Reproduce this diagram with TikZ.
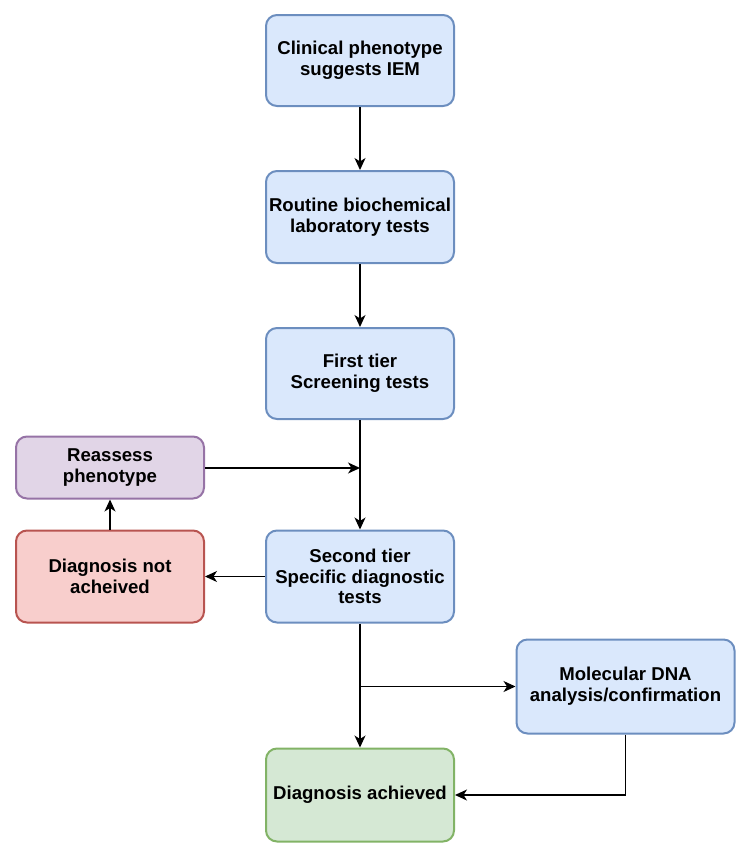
\documentclass[tikz,border=0pt]{standalone}
\usepackage{fontspec}
\setmainfont{Liberation Sans}
\usetikzlibrary{arrows.meta}
\definecolor{bfill}{HTML}{DAE8FC}\definecolor{bline}{HTML}{6C8EBF}
\definecolor{pfill}{HTML}{E1D5E7}\definecolor{pline}{HTML}{9673A6}
\definecolor{rfill}{HTML}{F8CECC}\definecolor{rline}{HTML}{B85450}
\definecolor{gfill}{HTML}{D5E8D4}\definecolor{gline}{HTML}{82B366}
\tikzset{
  box/.style={rectangle, rounded corners=11pt, line width=2pt, align=center,
    font=\fontsize{18.6}{20.8}\selectfont\bfseries, inner sep=2pt},
  bluebox/.style={box, fill=bfill, draw=bline},
  purplebox/.style={box, fill=pfill, draw=pline},
  redbox/.style={box, fill=rfill, draw=rline},
  greenbox/.style={box, fill=gfill, draw=gline},
  conn/.style={line width=1.3pt, -{Stealth[length=12pt,width=11pt,inset=3.5pt]}},
  plain/.style={line width=1.3pt}
}
\begin{document}
\begin{tikzpicture}[x=1pt,y=-1pt]
\useasboundingbox (0,0) rectangle (749,854);
\node[bluebox, minimum width=188pt, minimum height=91pt] (c1) at (360,60.5) {Clinical phenotype\\suggests IEM};
\node[bluebox, minimum width=188pt, minimum height=92pt] (c2) at (360,217) {Routine biochemical\\laboratory tests};
\node[bluebox, minimum width=188pt, minimum height=91pt] (c3) at (360,373.5) {First tier\\Screening tests};
\node[bluebox, minimum width=188pt, minimum height=92pt] (c4) at (360,576.5) {Second tier\\Specific diagnostic\\tests};
\node[purplebox, minimum width=188pt, minimum height=62pt] (re) at (110,467.5) {Reassess\\phenotype};
\node[redbox, minimum width=188pt, minimum height=92pt] (na) at (110,576.5) {Diagnosis not\\acheived};
\node[bluebox, minimum width=218pt, minimum height=94pt] (mol) at (625.5,686.5) {Molecular DNA\\analysis/confirmation};
\node[greenbox, minimum width=188pt, minimum height=93pt] (ach) at (360,795) {Diagnosis achieved};
\coordinate (j1) at (360,468);
\coordinate (j2) at (360,686.5);
\draw[conn] (c1) -- (c2);
\draw[conn] (c2) -- (c3);
\draw[conn] (c3) -- (c4);
\draw[conn] (re.east |- j1) -- (j1);
\draw[conn] (c4) -- (na);
\draw[conn] (na) -- (re);
\draw[conn] (c4) -- (ach);
\draw[conn] (j2) -- (mol.west);
\draw[conn] (mol.south) |- (ach.east);
\end{tikzpicture}
\end{document}
